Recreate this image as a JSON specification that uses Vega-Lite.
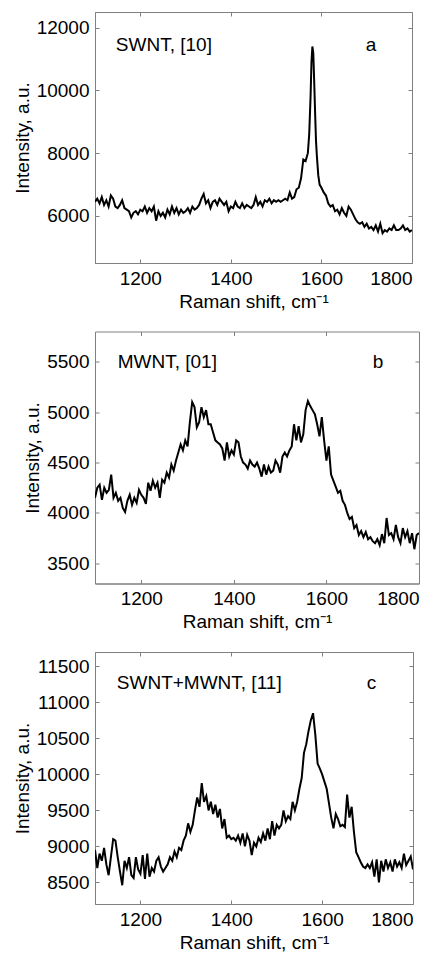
{
  "$schema": "https://vega.github.io/schema/vega-lite/v6.json",
  "padding": {"left": 12, "top": 11, "right": 5, "bottom": 5},
  "spacing": 18.5,
  "config": {
    "font": "Liberation Sans",
    "view": {"stroke": "#808080", "strokeWidth": 1},
    "axis": {
      "grid": false,
      "labelFont": "Liberation Sans",
      "titleFont": "Liberation Sans",
      "labelFontSize": 19,
      "titleFontSize": 19,
      "titleFontWeight": "normal",
      "labelColor": "black",
      "titleColor": "black",
      "domainColor": "#808080",
      "tickColor": "#808080",
      "tickSize": -4,
      "labelPadding": 10,
      "titlePadding": 4,
      "format": "d"
    }
  },
  "datasets": {
    "a": [
      {"shift":1100,"intensity":6450},{"shift":1105,"intensity":6550},{"shift":1110,"intensity":6400},{"shift":1115,"intensity":6600},{"shift":1120,"intensity":6350},{"shift":1125,"intensity":6500},{"shift":1130,"intensity":6300},{"shift":1135,"intensity":6650},{"shift":1140,"intensity":6550},{"shift":1145,"intensity":6300},{"shift":1150,"intensity":6250},{"shift":1155,"intensity":6350},{"shift":1160,"intensity":6500},{"shift":1165,"intensity":6250},{"shift":1170,"intensity":6200},{"shift":1175,"intensity":6150},{"shift":1180,"intensity":5950},{"shift":1185,"intensity":6100},{"shift":1190,"intensity":6150},{"shift":1195,"intensity":6050},
      {"shift":1200,"intensity":6200},{"shift":1205,"intensity":6150},{"shift":1210,"intensity":6300},{"shift":1215,"intensity":6100},{"shift":1220,"intensity":6250},{"shift":1225,"intensity":6150},{"shift":1230,"intensity":6300},{"shift":1235,"intensity":5850},{"shift":1240,"intensity":6150},{"shift":1245,"intensity":6000},{"shift":1250,"intensity":6100},{"shift":1255,"intensity":5950},{"shift":1260,"intensity":6200},{"shift":1265,"intensity":6050},{"shift":1270,"intensity":6300},{"shift":1275,"intensity":6100},{"shift":1280,"intensity":6250},{"shift":1285,"intensity":6050},{"shift":1290,"intensity":6200},{"shift":1295,"intensity":6100},
      {"shift":1300,"intensity":6150},{"shift":1305,"intensity":6250},{"shift":1310,"intensity":6100},{"shift":1315,"intensity":6300},{"shift":1320,"intensity":6200},{"shift":1325,"intensity":6250},{"shift":1330,"intensity":6350},{"shift":1335,"intensity":6550},{"shift":1340,"intensity":6700},{"shift":1345,"intensity":6400},{"shift":1350,"intensity":6500},{"shift":1355,"intensity":6250},{"shift":1360,"intensity":6450},{"shift":1365,"intensity":6500},{"shift":1370,"intensity":6350},{"shift":1375,"intensity":6550},{"shift":1380,"intensity":6450},{"shift":1385,"intensity":6350},{"shift":1390,"intensity":6450},{"shift":1395,"intensity":6150},
      {"shift":1400,"intensity":6300},{"shift":1405,"intensity":6250},{"shift":1410,"intensity":6450},{"shift":1415,"intensity":6300},{"shift":1420,"intensity":6250},{"shift":1425,"intensity":6400},{"shift":1430,"intensity":6250},{"shift":1435,"intensity":6350},{"shift":1440,"intensity":6300},{"shift":1445,"intensity":6250},{"shift":1450,"intensity":6350},{"shift":1455,"intensity":6600},{"shift":1460,"intensity":6350},{"shift":1465,"intensity":6450},{"shift":1470,"intensity":6300},{"shift":1475,"intensity":6500},{"shift":1480,"intensity":6450},{"shift":1485,"intensity":6550},{"shift":1490,"intensity":6400},{"shift":1495,"intensity":6500},
      {"shift":1500,"intensity":6450},{"shift":1505,"intensity":6500},{"shift":1510,"intensity":6450},{"shift":1515,"intensity":6500},{"shift":1520,"intensity":6550},{"shift":1525,"intensity":6500},{"shift":1530,"intensity":6750},{"shift":1535,"intensity":6550},{"shift":1540,"intensity":6600},{"shift":1545,"intensity":6850},{"shift":1550,"intensity":6900},{"shift":1555,"intensity":7200},{"shift":1560,"intensity":7800},{"shift":1565,"intensity":7750},{"shift":1570,"intensity":8000},{"shift":1573,"intensity":8600},{"shift":1576,"intensity":9800},{"shift":1578,"intensity":10900},{"shift":1580,"intensity":11400},{"shift":1582,"intensity":11200},{"shift":1584,"intensity":10300},{"shift":1586,"intensity":9300},{"shift":1588,"intensity":8400},{"shift":1590,"intensity":7900},{"shift":1593,"intensity":7300},{"shift":1596,"intensity":7000},
      {"shift":1600,"intensity":6900},{"shift":1605,"intensity":6750},{"shift":1610,"intensity":6650},{"shift":1615,"intensity":6400},{"shift":1620,"intensity":6300},{"shift":1625,"intensity":6350},{"shift":1630,"intensity":6150},{"shift":1635,"intensity":6200},{"shift":1640,"intensity":6050},{"shift":1645,"intensity":6250},{"shift":1650,"intensity":6100},{"shift":1655,"intensity":6000},{"shift":1660,"intensity":6300},{"shift":1665,"intensity":6200},{"shift":1670,"intensity":6050},{"shift":1675,"intensity":5900},{"shift":1680,"intensity":5800},{"shift":1685,"intensity":5750},{"shift":1690,"intensity":5800},{"shift":1695,"intensity":5650},
      {"shift":1700,"intensity":5750},{"shift":1705,"intensity":5600},{"shift":1710,"intensity":5650},{"shift":1715,"intensity":5550},{"shift":1720,"intensity":5700},{"shift":1725,"intensity":5500},{"shift":1730,"intensity":5750},{"shift":1735,"intensity":5450},{"shift":1740,"intensity":5550},{"shift":1745,"intensity":5500},{"shift":1750,"intensity":5600},{"shift":1755,"intensity":5550},{"shift":1760,"intensity":5700},{"shift":1765,"intensity":5550},{"shift":1770,"intensity":5550},{"shift":1775,"intensity":5600},{"shift":1780,"intensity":5700},{"shift":1785,"intensity":5550},{"shift":1790,"intensity":5600},{"shift":1795,"intensity":5500},{"shift":1800,"intensity":5550}
    ],
    "b": [
      {"shift":1100,"intensity":4150},{"shift":1105,"intensity":4250},{"shift":1110,"intensity":4280},{"shift":1115,"intensity":4130},{"shift":1120,"intensity":4250},{"shift":1125,"intensity":4200},{"shift":1130,"intensity":4230},{"shift":1135,"intensity":4380},{"shift":1140,"intensity":4150},{"shift":1145,"intensity":4200},{"shift":1150,"intensity":4120},{"shift":1155,"intensity":4150},{"shift":1160,"intensity":4050},{"shift":1165,"intensity":4010},{"shift":1170,"intensity":4120},{"shift":1175,"intensity":4180},{"shift":1180,"intensity":4080},{"shift":1185,"intensity":4150},{"shift":1190,"intensity":4100},{"shift":1195,"intensity":4230},
      {"shift":1200,"intensity":4180},{"shift":1205,"intensity":4150},{"shift":1210,"intensity":4090},{"shift":1215,"intensity":4300},{"shift":1220,"intensity":4220},{"shift":1225,"intensity":4320},{"shift":1230,"intensity":4250},{"shift":1235,"intensity":4300},{"shift":1240,"intensity":4150},{"shift":1245,"intensity":4330},{"shift":1250,"intensity":4300},{"shift":1255,"intensity":4400},{"shift":1260,"intensity":4350},{"shift":1265,"intensity":4480},{"shift":1270,"intensity":4420},{"shift":1275,"intensity":4520},{"shift":1280,"intensity":4600},{"shift":1285,"intensity":4680},{"shift":1290,"intensity":4620},{"shift":1295,"intensity":4720},
      {"shift":1300,"intensity":4660},{"shift":1305,"intensity":4900},{"shift":1310,"intensity":5100},{"shift":1315,"intensity":5050},{"shift":1320,"intensity":4850},{"shift":1325,"intensity":4900},{"shift":1330,"intensity":5050},{"shift":1335,"intensity":4950},{"shift":1340,"intensity":5020},{"shift":1345,"intensity":4880},{"shift":1350,"intensity":4880},{"shift":1355,"intensity":4800},{"shift":1360,"intensity":4720},{"shift":1365,"intensity":4700},{"shift":1370,"intensity":4680},{"shift":1375,"intensity":4640},{"shift":1380,"intensity":4520},{"shift":1385,"intensity":4700},{"shift":1390,"intensity":4560},{"shift":1395,"intensity":4620},
      {"shift":1400,"intensity":4580},{"shift":1405,"intensity":4720},{"shift":1410,"intensity":4700},{"shift":1415,"intensity":4560},{"shift":1420,"intensity":4500},{"shift":1425,"intensity":4480},{"shift":1430,"intensity":4440},{"shift":1435,"intensity":4520},{"shift":1440,"intensity":4480},{"shift":1445,"intensity":4460},{"shift":1450,"intensity":4500},{"shift":1455,"intensity":4440},{"shift":1460,"intensity":4360},{"shift":1465,"intensity":4480},{"shift":1470,"intensity":4380},{"shift":1475,"intensity":4460},{"shift":1480,"intensity":4400},{"shift":1485,"intensity":4420},{"shift":1490,"intensity":4520},{"shift":1495,"intensity":4480},
      {"shift":1500,"intensity":4400},{"shift":1505,"intensity":4560},{"shift":1510,"intensity":4600},{"shift":1515,"intensity":4560},{"shift":1520,"intensity":4620},{"shift":1525,"intensity":4660},{"shift":1530,"intensity":4880},{"shift":1535,"intensity":4720},{"shift":1540,"intensity":4860},{"shift":1545,"intensity":4700},{"shift":1550,"intensity":4780},{"shift":1555,"intensity":5020},{"shift":1560,"intensity":5110},{"shift":1565,"intensity":5060},{"shift":1570,"intensity":5020},{"shift":1575,"intensity":4980},{"shift":1580,"intensity":4880},{"shift":1585,"intensity":4760},{"shift":1590,"intensity":4950},{"shift":1595,"intensity":4720},
      {"shift":1600,"intensity":4520},{"shift":1605,"intensity":4660},{"shift":1610,"intensity":4380},{"shift":1615,"intensity":4320},{"shift":1620,"intensity":4260},{"shift":1625,"intensity":4200},{"shift":1630,"intensity":4220},{"shift":1635,"intensity":4120},{"shift":1640,"intensity":4080},{"shift":1645,"intensity":4000},{"shift":1650,"intensity":3940},{"shift":1655,"intensity":3960},{"shift":1660,"intensity":3850},{"shift":1665,"intensity":3880},{"shift":1670,"intensity":3780},{"shift":1675,"intensity":3820},{"shift":1680,"intensity":3760},{"shift":1685,"intensity":3810},{"shift":1690,"intensity":3740},{"shift":1695,"intensity":3760},
      {"shift":1700,"intensity":3720},{"shift":1705,"intensity":3700},{"shift":1710,"intensity":3740},{"shift":1715,"intensity":3680},{"shift":1720,"intensity":3790},{"shift":1725,"intensity":3700},{"shift":1730,"intensity":3950},{"shift":1735,"intensity":3780},{"shift":1740,"intensity":3800},{"shift":1745,"intensity":3740},{"shift":1750,"intensity":3880},{"shift":1755,"intensity":3760},{"shift":1760,"intensity":3700},{"shift":1765,"intensity":3850},{"shift":1770,"intensity":3760},{"shift":1775,"intensity":3820},{"shift":1780,"intensity":3700},{"shift":1785,"intensity":3800},{"shift":1790,"intensity":3640},{"shift":1795,"intensity":3780},{"shift":1800,"intensity":3800}
    ],
    "c": [
      {"shift":1100,"intensity":8950},{"shift":1105,"intensity":8700},{"shift":1110,"intensity":8900},{"shift":1115,"intensity":8800},{"shift":1120,"intensity":8980},{"shift":1125,"intensity":8750},{"shift":1130,"intensity":8600},{"shift":1135,"intensity":8850},{"shift":1140,"intensity":9100},{"shift":1145,"intensity":9080},{"shift":1150,"intensity":8850},{"shift":1155,"intensity":8650},{"shift":1160,"intensity":8460},{"shift":1165,"intensity":8800},{"shift":1170,"intensity":8700},{"shift":1175,"intensity":8850},{"shift":1180,"intensity":8600},{"shift":1185,"intensity":8560},{"shift":1190,"intensity":8850},{"shift":1195,"intensity":8680},
      {"shift":1200,"intensity":8620},{"shift":1205,"intensity":8880},{"shift":1210,"intensity":8550},{"shift":1215,"intensity":8900},{"shift":1220,"intensity":8580},{"shift":1225,"intensity":8700},{"shift":1230,"intensity":8650},{"shift":1235,"intensity":8800},{"shift":1240,"intensity":8850},{"shift":1245,"intensity":8720},{"shift":1250,"intensity":8650},{"shift":1255,"intensity":8700},{"shift":1260,"intensity":8750},{"shift":1265,"intensity":8850},{"shift":1270,"intensity":8800},{"shift":1275,"intensity":8930},{"shift":1280,"intensity":8850},{"shift":1285,"intensity":8980},{"shift":1290,"intensity":8950},{"shift":1295,"intensity":9080},
      {"shift":1300,"intensity":9150},{"shift":1305,"intensity":9320},{"shift":1310,"intensity":9200},{"shift":1315,"intensity":9300},{"shift":1320,"intensity":9500},{"shift":1325,"intensity":9680},{"shift":1330,"intensity":9550},{"shift":1335,"intensity":9880},{"shift":1340,"intensity":9620},{"shift":1345,"intensity":9700},{"shift":1350,"intensity":9500},{"shift":1355,"intensity":9620},{"shift":1360,"intensity":9450},{"shift":1365,"intensity":9580},{"shift":1370,"intensity":9400},{"shift":1375,"intensity":9520},{"shift":1380,"intensity":9250},{"shift":1385,"intensity":9380},{"shift":1390,"intensity":9120},{"shift":1395,"intensity":9150},
      {"shift":1400,"intensity":9100},{"shift":1405,"intensity":9120},{"shift":1410,"intensity":9080},{"shift":1415,"intensity":9150},{"shift":1420,"intensity":9050},{"shift":1425,"intensity":9180},{"shift":1430,"intensity":9000},{"shift":1435,"intensity":9160},{"shift":1440,"intensity":9080},{"shift":1445,"intensity":8880},{"shift":1450,"intensity":9050},{"shift":1455,"intensity":9000},{"shift":1460,"intensity":9120},{"shift":1465,"intensity":9060},{"shift":1470,"intensity":9180},{"shift":1475,"intensity":9080},{"shift":1480,"intensity":9250},{"shift":1485,"intensity":9100},{"shift":1490,"intensity":9350},{"shift":1495,"intensity":9150},
      {"shift":1500,"intensity":9300},{"shift":1505,"intensity":9250},{"shift":1510,"intensity":9300},{"shift":1515,"intensity":9500},{"shift":1520,"intensity":9350},{"shift":1525,"intensity":9420},{"shift":1530,"intensity":9380},{"shift":1535,"intensity":9620},{"shift":1540,"intensity":9500},{"shift":1545,"intensity":9620},{"shift":1550,"intensity":9800},{"shift":1555,"intensity":9950},{"shift":1560,"intensity":10300},{"shift":1565,"intensity":10420},{"shift":1570,"intensity":10600},{"shift":1575,"intensity":10750},{"shift":1580,"intensity":10850},{"shift":1585,"intensity":10550},{"shift":1590,"intensity":10150},{"shift":1595,"intensity":10080},
      {"shift":1600,"intensity":10000},{"shift":1605,"intensity":9900},{"shift":1610,"intensity":9800},{"shift":1615,"intensity":9600},{"shift":1620,"intensity":9400},{"shift":1625,"intensity":9250},{"shift":1630,"intensity":9450},{"shift":1635,"intensity":9380},{"shift":1640,"intensity":9280},{"shift":1645,"intensity":9300},{"shift":1650,"intensity":9270},{"shift":1655,"intensity":9720},{"shift":1660,"intensity":9400},{"shift":1665,"intensity":9550},{"shift":1670,"intensity":9200},{"shift":1675,"intensity":8920},{"shift":1680,"intensity":8850},{"shift":1685,"intensity":8780},{"shift":1690,"intensity":8720},{"shift":1695,"intensity":8700},
      {"shift":1700,"intensity":8750},{"shift":1705,"intensity":8700},{"shift":1710,"intensity":8780},{"shift":1715,"intensity":8580},{"shift":1720,"intensity":8820},{"shift":1725,"intensity":8500},{"shift":1730,"intensity":8800},{"shift":1735,"intensity":8650},{"shift":1740,"intensity":8820},{"shift":1745,"intensity":8700},{"shift":1750,"intensity":8780},{"shift":1755,"intensity":8650},{"shift":1760,"intensity":8820},{"shift":1765,"intensity":8720},{"shift":1770,"intensity":8780},{"shift":1775,"intensity":8700},{"shift":1780,"intensity":8900},{"shift":1785,"intensity":8740},{"shift":1790,"intensity":8800},{"shift":1795,"intensity":8860},{"shift":1800,"intensity":8680}
    ]
  },
  "vconcat": [
    {
      "width": 317, "height": 251,
      "layer": [
        {
          "data": {"name": "a"},
          "mark": {"type": "line", "color": "black", "strokeWidth": 2, "clip": true},
          "encoding": {
            "x": {"field": "shift", "type": "quantitative", "scale": {"domain": [1100, 1800], "nice": false, "zero": false}, "axis": {"values": [1200, 1400, 1600, 1800], "title": "Raman shift, cm⁻¹"}},
            "y": {"field": "intensity", "type": "quantitative", "scale": {"domain": [4500, 12500], "nice": false, "zero": false}, "axis": {"values": [6000, 8000, 10000, 12000], "title": "Intensity, a.u."}}
          }
        },
        {
          "data": {"values": [{"shift": 1146, "intensity": 11460, "label": "SWNT, [10]"}, {"shift": 1698, "intensity": 11460, "label": "a"}]},
          "mark": {"type": "text", "align": "left", "baseline": "middle", "fontSize": 19, "font": "Liberation Sans", "color": "black"},
          "encoding": {
            "x": {"field": "shift", "type": "quantitative", "axis": {"orient": "top", "values": [1200, 1400, 1600, 1800], "labels": false, "title": null, "domain": false}},
            "y": {"field": "intensity", "type": "quantitative", "axis": {"orient": "right", "values": [6000, 8000, 10000, 12000], "labels": false, "title": null, "domain": false}},
            "text": {"field": "label"}
          }
        }
      ],
      "resolve": {"axis": {"x": "independent", "y": "independent"}}
    },
    {
      "width": 324, "height": 252,
      "layer": [
        {
          "data": {"name": "b"},
          "mark": {"type": "line", "color": "black", "strokeWidth": 2, "clip": true},
          "encoding": {
            "x": {"field": "shift", "type": "quantitative", "scale": {"domain": [1100, 1800], "nice": false, "zero": false}, "axis": {"values": [1200, 1400, 1600, 1800], "title": "Raman shift, cm⁻¹"}},
            "y": {"field": "intensity", "type": "quantitative", "scale": {"domain": [3300, 5800], "nice": false, "zero": false}, "axis": {"values": [3500, 4000, 4500, 5000, 5500], "title": "Intensity, a.u."}}
          }
        },
        {
          "data": {"values": [{"shift": 1149, "intensity": 5500, "label": "MWNT, [01]"}, {"shift": 1700, "intensity": 5500, "label": "b"}]},
          "mark": {"type": "text", "align": "left", "baseline": "middle", "fontSize": 19, "font": "Liberation Sans", "color": "black"},
          "encoding": {
            "x": {"field": "shift", "type": "quantitative", "axis": {"orient": "top", "values": [1200, 1400, 1600, 1800], "labels": false, "title": null, "domain": false}},
            "y": {"field": "intensity", "type": "quantitative", "axis": {"orient": "right", "values": [3500, 4000, 4500, 5000, 5500], "labels": false, "title": null, "domain": false}},
            "text": {"field": "label"}
          }
        }
      ],
      "resolve": {"axis": {"x": "independent", "y": "independent"}}
    },
    {
      "width": 318, "height": 252,
      "layer": [
        {
          "data": {"name": "c"},
          "mark": {"type": "line", "color": "black", "strokeWidth": 2, "clip": true},
          "encoding": {
            "x": {"field": "shift", "type": "quantitative", "scale": {"domain": [1100, 1800], "nice": false, "zero": false}, "axis": {"values": [1200, 1400, 1600, 1800], "title": "Raman shift, cm⁻¹"}},
            "y": {"field": "intensity", "type": "quantitative", "scale": {"domain": [8200, 11700], "nice": false, "zero": false}, "axis": {"values": [8500, 9000, 9500, 10000, 10500, 11000, 11500], "title": "Intensity, a.u."}}
          }
        },
        {
          "data": {"values": [{"shift": 1148, "intensity": 11268, "label": "SWNT+MWNT, [11]"}, {"shift": 1698, "intensity": 11268, "label": "c"}]},
          "mark": {"type": "text", "align": "left", "baseline": "middle", "fontSize": 19, "font": "Liberation Sans", "color": "black"},
          "encoding": {
            "x": {"field": "shift", "type": "quantitative", "axis": {"orient": "top", "values": [1200, 1400, 1600, 1800], "labels": false, "title": null, "domain": false}},
            "y": {"field": "intensity", "type": "quantitative", "axis": {"orient": "right", "values": [8500, 9000, 9500, 10000, 10500, 11000, 11500], "labels": false, "title": null, "domain": false}},
            "text": {"field": "label"}
          }
        }
      ],
      "resolve": {"axis": {"x": "independent", "y": "independent"}}
    }
  ]
}
